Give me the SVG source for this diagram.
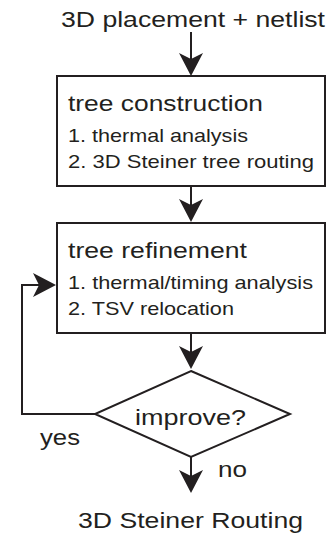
<svg xmlns="http://www.w3.org/2000/svg" width="328" height="535" viewBox="0 0 328 535">
<style>
text{font-family:"Liberation Sans",Arial,sans-serif;fill:#231f20}
.big{font-size:22.5px}
.item{font-size:19px}
.box{fill:#fff;stroke:#231f20;stroke-width:2}
.ln{fill:none;stroke:#231f20;stroke-width:2}
.ah{fill:#231f20}
</style>
<defs>
<path id="ah" d="M0,0 L-12,-23 L0,-17 L12,-23 Z"/>
</defs>
<rect width="328" height="535" fill="#fff"/>
<g id="connectors">
<line class="ln" x1="191" y1="32" x2="191" y2="62"/>
<use href="#ah" class="ah" transform="translate(191,76)"/>
<line class="ln" x1="191" y1="186" x2="191" y2="210"/>
<use href="#ah" class="ah" transform="translate(191,222)"/>
<line class="ln" x1="191" y1="333" x2="191" y2="356"/>
<use href="#ah" class="ah" transform="translate(191,369)"/>
<line class="ln" x1="191" y1="457" x2="191" y2="480"/>
<use href="#ah" class="ah" transform="translate(191,493)"/>
<polyline class="ln" points="95,414 22,414 22,285 42,285"/>
<use href="#ah" class="ah" transform="translate(56,285) rotate(-90)"/>
<text class="big" x="40" y="445" textLength="40" lengthAdjust="spacingAndGlyphs">yes</text>
<text class="big" x="218" y="477" textLength="29" lengthAdjust="spacingAndGlyphs">no</text>
</g>
<g id="input">
<text class="big" x="61" y="27" textLength="264" lengthAdjust="spacingAndGlyphs">3D placement + netlist</text>
</g>
<g id="tree-construction">
<rect class="box" x="57" y="76" width="268" height="110"/>
<text class="big" x="68" y="111" textLength="195" lengthAdjust="spacingAndGlyphs">tree construction</text>
<text class="item" x="68" y="142" textLength="180" lengthAdjust="spacingAndGlyphs">1. thermal analysis</text>
<text class="item" x="68" y="168" textLength="246" lengthAdjust="spacingAndGlyphs">2. 3D Steiner tree routing</text>
</g>
<g id="tree-refinement">
<rect class="box" x="57" y="223" width="268" height="110"/>
<text class="big" x="68" y="258" textLength="179" lengthAdjust="spacingAndGlyphs">tree refinement</text>
<text class="item" x="68" y="289" textLength="245" lengthAdjust="spacingAndGlyphs">1. thermal/timing analysis</text>
<text class="item" x="68" y="315" textLength="166" lengthAdjust="spacingAndGlyphs">2. TSV relocation</text>
</g>
<g id="improve">
<polygon class="box" points="191,371 290,414 191,457 95,414"/>
<text class="big" x="135" y="425" textLength="111" lengthAdjust="spacingAndGlyphs">improve?</text>
</g>
<g id="output">
<text class="big" x="78" y="528" textLength="225" lengthAdjust="spacingAndGlyphs">3D Steiner Routing</text>
</g>
</svg>
